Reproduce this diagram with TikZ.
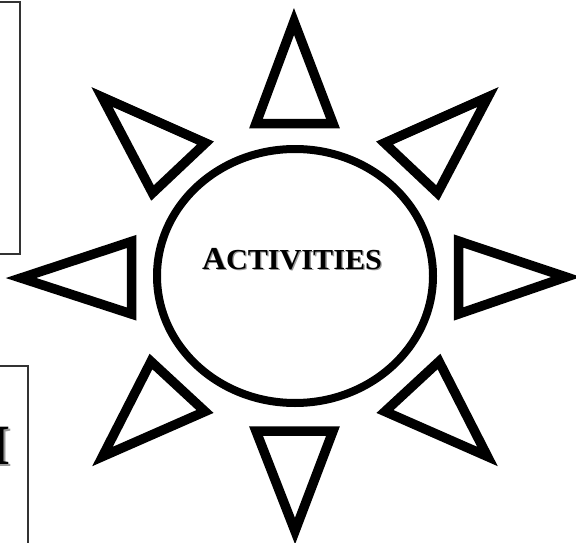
\documentclass[tikz,border=0pt]{standalone}
\usepackage{fontspec}
\usepackage{graphicx}
\setmainfont{Liberation Serif}
\usetikzlibrary{shapes.geometric}
\newcommand{\actword}{\scalebox{1.04}[1]{\bfseries\fontsize{32}{32}\selectfont A\fontsize{29}{29}\selectfont CTIVITIES}}
\begin{document}
\begin{tikzpicture}[x=1pt,y=-1pt,
  ray/.style={draw=black, line width=9.5pt, line join=miter, miter limit=10},
  framebox/.style={draw=black!80},
  shadowtxt/.style={text=black!40, inner sep=0pt},
  maintxt/.style={text=black, inner sep=0pt}]
\useasboundingbox (0,0) rectangle (576,543);
\clip (0,0) rectangle (576,543);
% side frames
\draw[framebox, line width=2.5pt] (-10,2) -- (20,2) -- (20,254) -- (-10,254);
\draw[framebox, line width=2pt] (-10,366) -- (28,366) -- (28,560);
\node[shadowtxt, anchor=east] (ishadow) at (12.5,447.5) {\fontsize{57}{57}\selectfont\bfseries I};
\node[maintxt, anchor=east] (iletter) at (11,446) {\fontsize{57}{57}\selectfont\bfseries I};
% rays
\draw[ray] (294,21.5) -- (256,123.5) -- (333,123.5) -- cycle;
\draw[ray] (295,531) -- (256,431) -- (333,431) -- cycle;
\draw[ray] (21,278) -- (131.5,241.5) -- (131.5,314) -- cycle;
\draw[ray] (566,277) -- (458.5,241) -- (458.5,314) -- cycle;
\draw[ray] (102,97) -- (205.5,143) -- (152.5,193) -- cycle;
\draw[ray] (488,97) -- (384.5,143) -- (437.5,193) -- cycle;
\draw[ray] (102.5,456.5) -- (205,411.5) -- (151,361.5) -- cycle;
\draw[ray] (487.5,456.5) -- (385,411.5) -- (439,361.5) -- cycle;
% hub
\node[ellipse, draw=black, line width=8pt, minimum width=276pt, minimum height=254pt, inner sep=0pt] (hub) at (295,276) {};
\node[shadowtxt] (lblshadow) at (293.3,260.3) {\actword};
\node[maintxt] (lbl) at (292,259) {\actword};
\end{tikzpicture}
\end{document}
